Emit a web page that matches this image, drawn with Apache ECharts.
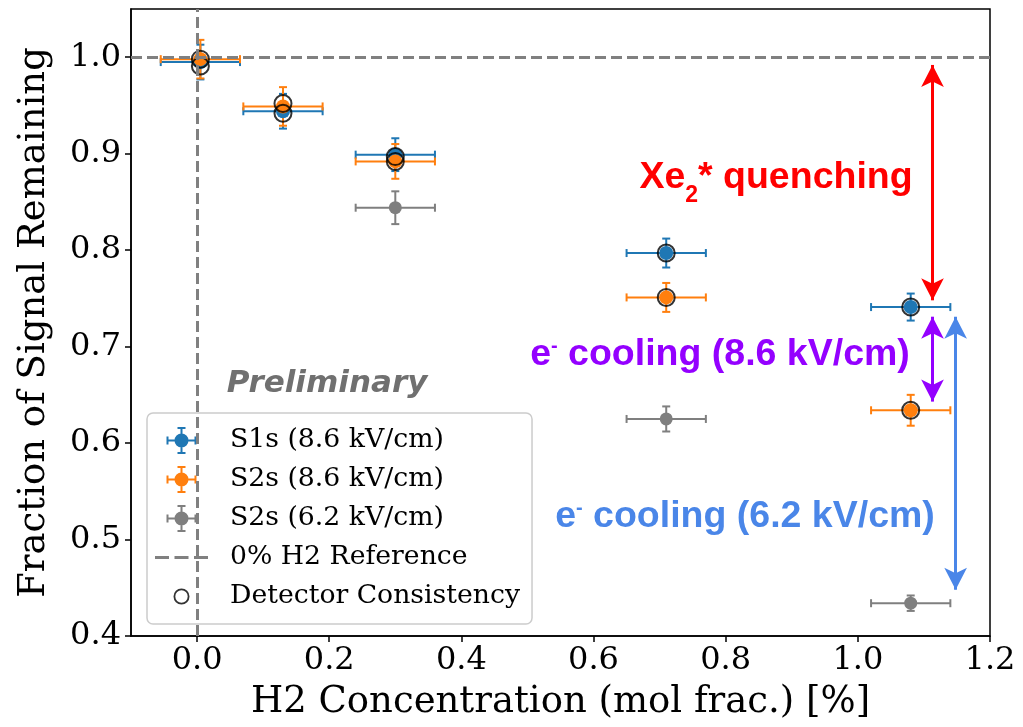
<!DOCTYPE html>
<html>
<head>
<meta charset="utf-8">
<script src="https://cdn.jsdelivr.net/npm/echarts@6/dist/echarts.min.js"></script>
<style>html,body{margin:0;padding:0;background:#fff}#c{width:1023px;height:727px}</style>
</head>
<body>
<div id="c"></div>
<script>
// ---- data ----
const xTicks = [0.0, 0.2, 0.4, 0.6, 0.8, 1.0, 1.2];
const yTicks = [0.4, 0.5, 0.6, 0.7, 0.8, 0.9, 1.0];

const s1Name = 'S1s (8.6 kV/cm)';
const s1X = [0.005, 0.13, 0.30, 0.71, 1.08];
const s1Y = [0.995, 0.944, 0.899, 0.797, 0.741];
const s1XErr = [0.06, 0.06, 0.06, 0.06, 0.06];
const s1YErr = [0.018, 0.018, 0.017, 0.015, 0.014];

const s2Name = 'S2s (8.6 kV/cm)';
const s2X = [0.005, 0.13, 0.30, 0.71, 1.08];
const s2Y = [0.998, 0.949, 0.892, 0.751, 0.634];
const s2XErr = [0.06, 0.06, 0.06, 0.06, 0.06];
const s2YErr = [0.020, 0.020, 0.018, 0.015, 0.016];

const s3Name = 'S2s (6.2 kV/cm)';
const s3X = [0.30, 0.71, 1.08];
const s3Y = [0.844, 0.625, 0.434];
const s3XErr = [0.06, 0.06, 0.06];
const s3YErr = [0.017, 0.013, 0.008];

const refName = '0% H2 Reference';
const refY = [1.0];
const refX = [0.0];

const detName = 'Detector Consistency';
const detX = [0.005, 0.005, 0.13, 0.13, 0.30, 0.30, 0.71, 0.71, 1.08, 1.08];
const detY = [0.998, 0.991, 0.952, 0.942, 0.897, 0.892, 0.797, 0.751, 0.741, 0.634];

// annotation arrows (data coordinates)
const arrowX = [1.113, 1.113, 1.148];
const arrowTop = [0.992, 0.731, 0.731];
const arrowBottom = [0.748, 0.643, 0.448];
const arrowColors = ['#ff0000', '#9400ff', '#4a86e8'];

// ---- helpers ----
const C_BLUE = '#1f77b4', C_ORANGE = '#ff7f0e', C_GRAY = '#7f7f7f';
const SERIF = 'DejaVu Serif';

function zip4(a, b, c, d) { return a.map((v, i) => [v, b[i], c[i], d[i]]); }

function errRender(color) {
  return function (params, api) {
    const x = api.value(0), y = api.value(1), ex = api.value(2), ey = api.value(3);
    const l = api.coord([x - ex, y]), r = api.coord([x + ex, y]);
    const t = api.coord([x, y + ey]), b = api.coord([x, y - ey]);
    const cap = 4;
    const st = { stroke: color, lineWidth: 2 };
    const ln = (x1, y1, x2, y2) => ({ type: 'line', shape: { x1, y1, x2, y2 }, style: st });
    return {
      type: 'group',
      children: [
        ln(l[0], l[1], r[0], r[1]),
        ln(l[0], l[1] - cap, l[0], l[1] + cap),
        ln(r[0], r[1] - cap, r[0], r[1] + cap),
        ln(t[0], t[1], b[0], b[1]),
        ln(t[0] - cap, t[1], t[0] + cap, t[1]),
        ln(b[0] - cap, b[1], b[0] + cap, b[1])
      ]
    };
  };
}

function errSeries(name, color, xs, ys, xe, ye) {
  return {
    type: 'custom', name, renderItem: errRender(color), clip: false,
    encode: { x: 0, y: 1 }, data: zip4(xs, ys, xe, ye), itemStyle: { color },
    silent: true, z: 2
  };
}
function ptSeries(name, color, xs, ys, size) {
  return {
    type: 'scatter', name, data: xs.map((v, i) => [v, ys[i]]), symbol: 'circle',
    symbolSize: size, itemStyle: { color, opacity: 1 }, silent: true, z: 2
  };
}

// legend icon paths in a common 53x27 frame
function rect(x1, y1, x2, y2) { return `M${x1} ${y1}L${x2} ${y1}L${x2} ${y2}L${x1} ${y2}Z`; }
const frame = 'M0 0M53 27';
const errIcon = 'path://' + frame +
  rect(11.5, 12.5, 41.5, 14.5) + rect(11.5, 9.5, 13.5, 17.5) + rect(39.5, 9.5, 41.5, 17.5) +
  rect(25.5, 0, 27.5, 27) + rect(22.5, 0, 30.5, 2) + rect(22.5, 25, 30.5, 27) +
  'M19.5 13.5A7 7 0 1 1 33.5 13.5A7 7 0 1 1 19.5 13.5Z';
const dashIcon = 'path://' + frame + rect(0, 12, 14, 15) + rect(19.5, 12, 33.5, 15) + rect(39, 12, 53, 15);
const ringIcon = 'path://' + frame +
  'M18.5 13.5A8 8 0 1 1 34.5 13.5A8 8 0 1 1 18.5 13.5Z' +
  'M20.3 13.5A6.2 6.2 0 1 0 32.7 13.5A6.2 6.2 0 1 0 20.3 13.5Z';

const chart = echarts.init(document.getElementById('c'), null, { renderer: 'canvas' });

const ANN = 'Liberation Sans';
const ANN_SIZE = 37.5;
function annRich(color) {
  return {
    a: { fontFamily: ANN, fontWeight: 'bold', fontSize: ANN_SIZE, fill: color, color: color, verticalAlign: 'bottom' },
    p: { fontFamily: ANN, fontWeight: 'bold', fontSize: 20, fill: color, color: color, verticalAlign: 'top' }
  };
}

const option = {
  animation: false,
  backgroundColor: '#fff',
  grid: { left: 131, right: 33, top: 9, bottom: 91, show: true, borderColor: '#000', borderWidth: 1.5, backgroundColor: 'transparent' },
  xAxis: {
    type: 'value', min: -0.1, max: 1.2,
    name: 'H2 Concentration (mol frac.) [%]', nameLocation: 'middle', nameGap: 48,
    nameTextStyle: { fontFamily: SERIF, fontSize: 37, color: '#000' },
    axisLine: { show: true, onZero: false, lineStyle: { color: '#000', width: 1.5 } },
    axisTick: { show: true, length: 6, customValues: xTicks, lineStyle: { color: '#000', width: 1.5 } },
    axisLabel: { customValues: xTicks, formatter: v => v.toFixed(1), fontFamily: SERIF, fontSize: 32, color: '#000', margin: 9 },
    splitLine: { show: false }
  },
  yAxis: {
    type: 'value', min: 0.4, max: 1.05,
    name: 'Fraction of Signal Remaining', nameLocation: 'middle', nameGap: 78,
    nameTextStyle: { fontFamily: SERIF, fontSize: 37, color: '#000' },
    axisLine: { show: true, onZero: false, lineStyle: { color: '#000', width: 1.5 } },
    axisTick: { show: true, length: 6, customValues: yTicks, lineStyle: { color: '#000', width: 1.5 } },
    axisLabel: { customValues: yTicks, formatter: v => v.toFixed(1), fontFamily: SERIF, fontSize: 32, color: '#000', margin: 10 },
    splitLine: { show: false }
  },
  legend: {
    orient: 'vertical', left: 147, top: 413,
    itemWidth: 53, itemHeight: 27, itemGap: 12,
    padding: [14, 12, 14, 8],
    backgroundColor: 'rgba(255,255,255,0.8)', borderColor: '#cccccc', borderWidth: 1.5, borderRadius: 6,
    textStyle: { fontFamily: SERIF, fontSize: 26.7, color: '#000', padding: [0, 0, 0, 17] },
    selectedMode: false,
    data: [
      { name: s1Name, icon: errIcon, itemStyle: { color: C_BLUE, borderWidth: 0 } },
      { name: s2Name, icon: errIcon, itemStyle: { color: C_ORANGE, borderWidth: 0 } },
      { name: s3Name, icon: errIcon, itemStyle: { color: C_GRAY, borderWidth: 0 } },
      { name: refName, icon: dashIcon, itemStyle: { color: '#808080', borderWidth: 0 } },
      { name: detName, icon: ringIcon, itemStyle: { color: '#000', borderWidth: 0 } }
    ]
  },
  graphic: [
    {
      type: 'text', x: 776, y: 183, z: 100,
      style: {
        text: '{a|Xe}{s|2}{a|* quenching}', align: 'center', verticalAlign: 'middle',
        rich: {
          a: { fontFamily: ANN, fontWeight: 'bold', fontSize: ANN_SIZE, fill: '#ff0000', color: '#ff0000', padding: [0, 0, 10, 0], verticalAlign: 'bottom' },
          s: { fontFamily: ANN, fontWeight: 'bold', fontSize: 23, fill: '#ff0000', color: '#ff0000', verticalAlign: 'bottom' }
        }
      }
    },
    {
      type: 'text', x: 720, y: 355, z: 100,
      style: { text: '{a|e}{p|-}{a| cooling (8.6 kV/cm)}', align: 'center', verticalAlign: 'middle', rich: annRich('#9400ff') }
    },
    {
      type: 'text', x: 745, y: 517, z: 100,
      style: { text: '{a|e}{p|-}{a| cooling (6.2 kV/cm)}', align: 'center', verticalAlign: 'middle', rich: annRich('#4a86e8') }
    },
    {
      type: 'text', x: 327, y: 384, z: 100,
      style: {
        text: 'Preliminary', align: 'center', verticalAlign: 'middle',
        font: 'italic bold 31px "DejaVu Sans"', fill: '#707070'
      }
    }
  ],
  series: [
    {
      type: 'line', name: refName, data: [], silent: true, z: 1,
      itemStyle: { color: '#808080' },
      markLine: {
        silent: true, symbol: 'none', animation: false,
        label: { show: false },
        lineStyle: { color: '#808080', width: 3, type: [11, 5] },
        emphasis: { disabled: true },
        data: refY.map(v => ({ yAxis: v })).concat(refX.map(v => ({ xAxis: v })))
      }
    },
    errSeries(s1Name, C_BLUE, s1X, s1Y, s1XErr, s1YErr),
    ptSeries(s1Name, C_BLUE, s1X, s1Y, 14),
    errSeries(s2Name, C_ORANGE, s2X, s2Y, s2XErr, s2YErr),
    ptSeries(s2Name, C_ORANGE, s2X, s2Y, 14),
    errSeries(s3Name, C_GRAY, s3X, s3Y, s3XErr, s3YErr),
    ptSeries(s3Name, C_GRAY, s3X, s3Y, 13),
    {
      type: 'scatter', name: detName, data: detX.map((v, i) => [v, detY[i]]),
      symbol: 'circle', symbolSize: 17, silent: true, z: 3,
      itemStyle: { color: 'rgba(0,0,0,0)', borderColor: '#000', borderWidth: 2 }
    },
    {
      type: 'line', name: 'arrows', data: [], silent: true, z: 5,
      markLine: {
        silent: true, animation: false,
        symbol: ['arrow', 'arrow'], symbolSize: [17, 22],
        label: { show: false },
        emphasis: { disabled: true },
        data: arrowX.map((x, i) => [
          { coord: [x, arrowTop[i]], lineStyle: { color: arrowColors[i], width: 3, type: 'solid' }, itemStyle: { color: arrowColors[i] } },
          { coord: [x, arrowBottom[i]] }
        ])
      }
    }
  ]
};
chart.setOption(option);
</script>
</body>
</html>
